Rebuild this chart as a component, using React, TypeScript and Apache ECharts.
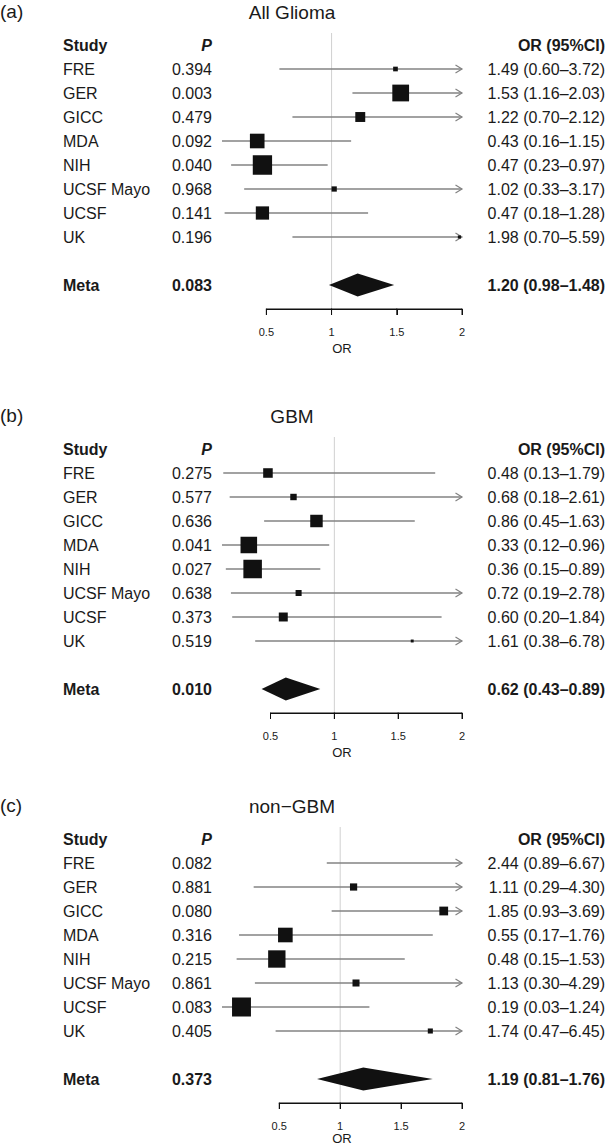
import React, { useEffect, useRef } from "react";
import * as echarts from "echarts";

// ---------------- data ----------------
const STUDIES = ["FRE", "GER", "GICC", "MDA", "NIH", "UCSF Mayo", "UCSF", "UK"];
const PANEL_TAGS = ["(a)", "(b)", "(c)"];
const PANEL_TITLES = ["All Glioma", "GBM", "non−GBM"];

// (a) All glioma
const GLIOMA_P = [0.394, 0.003, 0.479, 0.092, 0.04, 0.968, 0.141, 0.196];
const GLIOMA_OR = [1.49, 1.53, 1.22, 0.43, 0.47, 1.02, 0.47, 1.98];
const GLIOMA_LOWER = [0.6, 1.16, 0.7, 0.16, 0.23, 0.33, 0.18, 0.7];
const GLIOMA_UPPER = [3.72, 2.03, 2.12, 1.15, 0.97, 3.17, 1.28, 5.59];
const GLIOMA_WEIGHT = [0.24, 0.86, 0.51, 0.75, 0.99, 0.27, 0.68, 0.16];
const GLIOMA_META = [0.083, 1.2, 0.98, 1.48]; // P, OR, lower, upper

// (b) GBM
const GBM_P = [0.275, 0.577, 0.636, 0.041, 0.027, 0.638, 0.373, 0.519];
const GBM_OR = [0.48, 0.68, 0.86, 0.33, 0.36, 0.72, 0.6, 1.61];
const GBM_LOWER = [0.13, 0.18, 0.45, 0.12, 0.15, 0.19, 0.2, 0.38];
const GBM_UPPER = [1.79, 2.61, 1.63, 0.96, 0.89, 2.78, 1.84, 6.78];
const GBM_WEIGHT = [0.49, 0.33, 0.64, 0.85, 0.95, 0.31, 0.46, 0.15];
const GBM_META = [0.01, 0.62, 0.43, 0.89];

// (c) non-GBM
const NONGBM_P = [0.082, 0.881, 0.08, 0.316, 0.215, 0.861, 0.083, 0.405];
const NONGBM_OR = [2.44, 1.11, 1.85, 0.55, 0.48, 1.13, 0.19, 1.74];
const NONGBM_LOWER = [0.89, 0.29, 0.93, 0.17, 0.15, 0.3, 0.03, 0.47];
const NONGBM_UPPER = [6.67, 4.3, 3.69, 1.76, 1.53, 4.29, 1.24, 6.45];
const NONGBM_WEIGHT = [0.3, 0.37, 0.45, 0.75, 0.89, 0.36, 0.97, 0.26];
const NONGBM_META = [0.373, 1.19, 0.81, 1.76];

const X_TICKS = [0.5, 1, 1.5, 2];
const X_TICK_MIN = 0.5;
const X_TICK_STEP = 0.5;
const X_MAX = 2;
const X_NAME = "OR";

// ---------------- layout / style ----------------
const W = 606;
const H = 1145;
const PLOT_LEFT = 222;
const PLOT_RIGHT = 462;
const HEADER_Y = [45, 449, 839];
const NAME_GAP = [39, 39, 35];
const ROW_H = 24;
const META_ROW = 10;
const AXIS_ROW = 11;
const BOX_MAX = 19.5;
const FONT = "Liberation Sans, Arial, Helvetica, sans-serif";
const TXT = "#1a1a1a";
const CI_COLOR = "#838383";

const PANELS = [
  { p: GLIOMA_P, or: GLIOMA_OR, lo: GLIOMA_LOWER, hi: GLIOMA_UPPER, w: GLIOMA_WEIGHT, meta: GLIOMA_META },
  { p: GBM_P, or: GBM_OR, lo: GBM_LOWER, hi: GBM_UPPER, w: GBM_WEIGHT, meta: GBM_META },
  { p: NONGBM_P, or: NONGBM_OR, lo: NONGBM_LOWER, hi: NONGBM_UPPER, w: NONGBM_WEIGHT, meta: NONGBM_META },
];

const fmtCI = (o: number, l: number, h: number) =>
  `${o.toFixed(2)} (${l.toFixed(2)}–${h.toFixed(2)})`;

function buildOption() {
  const grid: any[] = [];
  const xAxis: any[] = [];
  const yAxis: any[] = [];
  const series: any[] = [];
  const graphic: any[] = [];

  PANELS.forEach((pn, i) => {
    const xMin = Math.min(...pn.lo, pn.meta[2]);
    const left = PLOT_LEFT + ((X_TICK_MIN - xMin) / (X_MAX - xMin)) * (PLOT_RIGHT - PLOT_LEFT);
    const top = HEADER_Y[i] - ROW_H / 2;
    grid.push({ left, top, width: PLOT_RIGHT - left, height: ROW_H * (AXIS_ROW + 0.5) });
    xAxis.push({
      type: "value",
      gridIndex: i,
      min: X_TICK_MIN,
      max: X_MAX,
      interval: X_TICK_STEP,
      axisLine: { show: true, onZero: false, lineStyle: { color: "#111", width: 1 } },
      axisTick: { show: true, length: 6, lineStyle: { color: "#111", width: 1 } },
      axisLabel: { show: true, fontSize: 11, margin: 17, color: TXT, fontFamily: FONT },
      splitLine: { show: false },
    });
    yAxis.push({ type: "value", gridIndex: i, min: -0.5, max: AXIS_ROW, inverse: true, show: false });

    // reference line at OR = 1
    series.push({
      type: "custom",
      xAxisIndex: i,
      yAxisIndex: i,
      silent: true,
      z: 1,
      data: [[1, 0]],
      renderItem: (_p: any, api: any) => {
        const v = api.value(0);
        const a = api.coord([v, -0.5]);
        const b = api.coord([v, AXIS_ROW]);
        return { type: "rect", shape: { x: a[0] - 0.5, y: a[1], width: 1, height: b[1] - a[1] }, style: { fill: "#d0d0d0" } };
      },
    });

    // x axis line and ticks, drawn again through the scale as a safety net
    series.push({
      type: "custom",
      xAxisIndex: i,
      yAxisIndex: i,
      silent: true,
      z: 2,
      clip: false,
      data: [[X_TICK_MIN, AXIS_ROW]],
      renderItem: (_p: any, api: any) => {
        const l = api.coord([X_TICK_MIN, AXIS_ROW]);
        const r = api.coord([X_MAX, AXIS_ROW]);
        const ch: any[] = [
          { type: "rect", shape: { x: l[0], y: l[1] - 0.5, width: r[0] - l[0], height: 1 }, style: { fill: "#111" } },
        ];
        X_TICKS.forEach((t) => {
          const c = api.coord([t, AXIS_ROW]);
          ch.push({ type: "rect", shape: { x: c[0] - 0.5, y: c[1] - 0.5, width: 1, height: 6.5 }, style: { fill: "#111" } });
        });
        return { type: "group", children: ch };
      },
    });

    // study CIs and boxes
    series.push({
      type: "custom",
      xAxisIndex: i,
      yAxisIndex: i,
      silent: true,
      z: 3,
      encode: { x: 0, y: 4 },
      data: STUDIES.map((_, k) => [pn.or[k], pn.lo[k], pn.hi[k], pn.w[k], k + 1]),
      renderItem: (_p: any, api: any) => {
        const o = api.value(0), l = api.value(1), h = api.value(2), wt = api.value(3), row = api.value(4);
        const y = api.coord([1, row])[1];
        const x0 = api.coord([Math.max(l, xMin), row])[0];
        const x1 = api.coord([Math.min(h, X_MAX), row])[0];
        const ch: any[] = [
          { type: "line", shape: { x1: x0, y1: y, x2: x1, y2: y }, style: { stroke: CI_COLOR, lineWidth: 1.4 } },
        ];
        if (h > X_MAX) {
          ch.push({
            type: "polyline",
            shape: { points: [[x1 - 6.5, y - 4], [x1, y], [x1 - 6.5, y + 4]] },
            style: { stroke: CI_COLOR, fill: "none", lineWidth: 1.2 },
          });
        }
        if (o <= X_MAX) {
          const cx = api.coord([o, row])[0];
          const s = wt * BOX_MAX;
          ch.push({ type: "rect", shape: { x: cx - s / 2, y: y - s / 2, width: s, height: s }, style: { fill: "#111" } });
        }
        return { type: "group", children: ch };
      },
    });

    // meta diamond
    series.push({
      type: "custom",
      xAxisIndex: i,
      yAxisIndex: i,
      silent: true,
      z: 3,
      encode: { x: 0, y: 3 },
      data: [[pn.meta[1], pn.meta[2], pn.meta[3], META_ROW]],
      renderItem: (_p: any, api: any) => {
        const row = api.value(3);
        const c = api.coord([api.value(0), row]);
        const l = api.coord([api.value(1), row]);
        const r = api.coord([api.value(2), row]);
        const hh = 11.5;
        return {
          type: "polygon",
          shape: { points: [[l[0], c[1]], [c[0], c[1] - hh], [r[0], c[1]], [c[0], c[1] + hh]] },
          style: { fill: "#111" },
        };
      },
    });

    // text columns
    const rows: { row: number; study: string; p: string; ci: string; bold: boolean; header?: boolean }[] = [];
    rows.push({ row: 0, study: "Study", p: "P", ci: "OR (95%CI)", bold: true, header: true });
    STUDIES.forEach((s, k) =>
      rows.push({ row: k + 1, study: s, p: pn.p[k].toFixed(3), ci: fmtCI(pn.or[k], pn.lo[k], pn.hi[k]), bold: false })
    );
    rows.push({ row: META_ROW, study: "Meta", p: pn.meta[0].toFixed(3), ci: fmtCI(pn.meta[1], pn.meta[2], pn.meta[3]), bold: true });

    series.push({
      type: "custom",
      xAxisIndex: i,
      yAxisIndex: i,
      silent: true,
      z: 4,
      encode: { x: 0, y: 1 },
      data: rows.map((r) => [1, r.row]),
      renderItem: (p: any, api: any) => {
        const r = rows[p.dataIndex];
        const y = api.coord([1, api.value(1)])[1];
        const f = `${r.bold ? "bold " : ""}16px ${FONT}`;
        const pf = `${r.header ? "italic bold " : r.bold ? "bold " : ""}16px ${FONT}`;
        return {
          type: "group",
          children: [
            { type: "text", style: { text: r.study, x: 63, y, font: f, fill: TXT, align: "left", verticalAlign: "middle" } },
            { type: "text", style: { text: r.p, x: 212, y, font: pf, fill: TXT, align: "right", verticalAlign: "middle" } },
            { type: "text", style: { text: r.ci, x: 605, y, font: f, fill: TXT, align: "right", verticalAlign: "middle" } },
          ],
        };
      },
    });

    const tagY = HEADER_Y[i] - 34;
    graphic.push({
      type: "text",
      x: 0,
      y: tagY,
      style: { text: PANEL_TAGS[i], font: `19px ${FONT}`, fill: TXT, align: "left", verticalAlign: "middle" },
    });
    graphic.push({
      type: "text",
      x: 292,
      y: tagY + 1,
      style: { text: PANEL_TITLES[i], font: `19px ${FONT}`, fill: TXT, align: "center", verticalAlign: "middle" },
    });
    graphic.push({
      type: "text",
      x: (PLOT_LEFT + PLOT_RIGHT) / 2,
      y: HEADER_Y[i] + ROW_H * AXIS_ROW + NAME_GAP[i],
      style: { text: X_NAME, font: `13px ${FONT}`, fill: TXT, align: "center", verticalAlign: "middle" },
    });
  });

  return { animation: false, backgroundColor: "#fff", grid, xAxis, yAxis, series, graphic };
}

export default function App() {
  const ref = useRef<HTMLDivElement>(null);
  useEffect(() => {
    document.body.style.margin = "0";
    if (!ref.current) return;
    const chart = echarts.init(ref.current, undefined, { renderer: "svg" });
    chart.setOption(buildOption() as any);
    return () => chart.dispose();
  }, []);
  return <div ref={ref} style={{ width: W, height: H, position: "absolute", left: 0, top: 0 }} />;
}
